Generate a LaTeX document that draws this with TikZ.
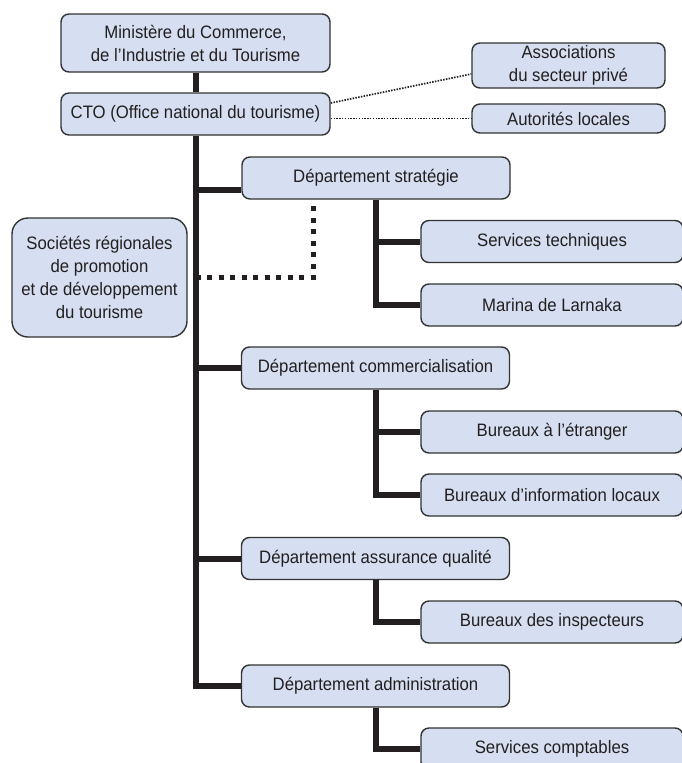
\documentclass[tikz,border=0pt]{standalone}
\usepackage{fontspec}
\setmainfont[FakeStretch=0.93]{Liberation Sans}
\usepackage{tikz}
\usetikzlibrary{positioning}
\definecolor{orgfill}{HTML}{D6DEF1}
\definecolor{orgedge}{HTML}{333333}
\definecolor{orgline}{HTML}{231F20}
\tikzset{
  unit/.style={
    draw=orgedge,
    fill=orgfill,
    line width=1.4pt,
    rounded corners=8pt,
    align=center,
    inner sep=0pt,
    minimum height=42pt,
    text=orgline,
    font=\fontsize{18}{23}\selectfont
  },
  dept/.style={
    unit,
    minimum width=268pt
  },
  service/.style={
    unit,
    minimum width=262pt
  },
  partner/.style={
    unit,
    minimum width=193pt
  },
  trunk/.style={
    draw=orgline,
    line width=6pt
  },
  looselink/.style={
    draw=orgline,
    line width=1.7pt,
    dash pattern=on 1.5pt off 1.3pt
  },
  regionlink/.style={
    draw=orgline,
    line width=5pt,
    dash pattern=on 5pt off 6.5pt
  }
}

\begin{document}
\begin{tikzpicture}[x=1pt, y=-1pt]
  \useasboundingbox (0,0) rectangle (682,763);

  \node[unit, minimum width=269pt, minimum height=58pt] (ministry) at (195.5,43) {Ministère du Commerce,\\de l’Industrie et du Tourisme};
  \node[unit, minimum width=269pt] (cto) at (195.5,114) {CTO (Office national du tourisme)};
  \node[partner, minimum height=45pt] (assoc) at (568.5,65.5) {Associations\\du secteur privé};
  \node[partner, minimum height=29pt] (local) at (568.5,118.5) {Autorités locales};
  \node[unit, minimum width=175pt, minimum height=119pt, rounded corners=16pt] (regional) at (99.5,277.5) {Sociétés régionales\\de promotion\\et de développement\\du tourisme};

  \node[dept] (strategy) at (376,178) {Département stratégie};
  \node[service] (technical) at (552,241.5) {Services techniques};
  \node[service] (marina) at (552,305) {Marina de Larnaka};

  \node[dept] (marketing) at (375.5,368) {Département commercialisation};
  \node[service] (abroad) at (552,432) {Bureaux à l’étranger};
  \node[service] (infodesk) at (552,495) {Bureaux d’information locaux};

  \node[dept] (quality) at (375.5,558.5) {Département assurance qualité};
  \node[service] (inspectors) at (552,622) {Bureaux des inspecteurs};

  \node[dept] (admin) at (375.5,686) {Département administration};
  \node[service] (accounts) at (552,749) {Services comptables};

  \draw[trunk] (ministry) -- (cto);
  \draw[trunk] (cto.south) |- (admin.west);
  \draw[trunk] ([yshift=-12pt]strategy.west -| cto.south) -- ([yshift=-12pt]strategy.west);
  \draw[trunk] (marketing.west -| cto.south) -- (marketing.west);
  \draw[trunk] (quality.west -| cto.south) -- (quality.west);

  \draw[trunk] (strategy.south) |- (marina.west);
  \draw[trunk] (strategy.south |- technical.west) -- (technical.west);
  \draw[trunk] (marketing.south) |- (infodesk.west);
  \draw[trunk] (marketing.south |- abroad.west) -- (abroad.west);
  \draw[trunk] (quality.south) |- (inspectors.west);
  \draw[trunk] (admin.south) |- (accounts.west);

  \draw[looselink] ([yshift=11pt]cto.east) -- ([yshift=-8.5pt]assoc.west);
  \draw[looselink] (local.west -| cto.east) -- (local.west);

  \coordinate (regiontop) at (313,206);
  \draw[regionlink] (regional.east -| cto.south) -| (regiontop);
\end{tikzpicture}
\end{document}
